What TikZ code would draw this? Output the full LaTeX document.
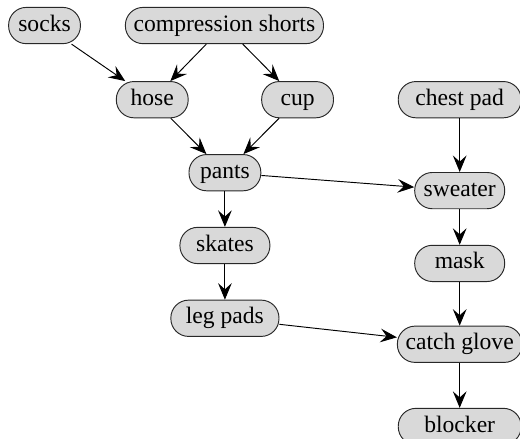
\documentclass[tikz,border=0pt]{standalone}
\usepackage{fontspec}
\setmainfont{Liberation Serif}
\usepackage{tikz}
\usetikzlibrary{arrows.meta, positioning, calc}
\definecolor{padgray}{RGB}{217, 217, 217}
\definecolor{edgegray}{RGB}{40, 40, 40}

\begin{document}
\begin{tikzpicture}[
    node distance=0.53cm and 0.55cm,
    garment/.style={rectangle, draw=edgegray, fill=padgray, rounded corners=7.5pt, minimum width=1.07cm, minimum height=0.54cm, inner xsep=3.5pt, inner ysep=3pt, text height=6.9pt, text depth=2.2pt},
    midgarment/.style={garment, minimum width=1.34cm},
    widegarment/.style={garment, minimum width=1.83cm},
    arrow/.style={-{Stealth[length=7pt, width=5.8pt, inset=2.6pt]}, black}
]
\useasboundingbox (-0.663,0.380) rectangle (7.080,-6.142);

% Top row
\node[garment] (socks) {socks};
\node[garment, right=0.655cm of socks] (shorts) {compression shorts};

% Under layers
\node[garment, below right=0.55cm and 0.52cm of socks] (hose) {hose};
\node[garment, right=1.08cm of hose] (cup) {cup};
\node[widegarment, right=0.95cm of cup] (chestpad) {chest pad};

% Pants and below
\node[garment, below=0.81cm of $(hose)!0.5!(cup)$] (pants) {pants};
\node[midgarment, below=of pants] (skates) {skates};
\node[garment, minimum width=1.61cm, below=of skates] (legpads) {leg pads};

% Upper body
\node[midgarment, below=0.80cm of chestpad] (sweater) {sweater};
\node[midgarment, below=of sweater] (mask) {mask};
\node[widegarment, below=0.65cm of mask] (glove) {catch glove};
\node[widegarment, below=0.67cm of glove] (blocker) {blocker};

% Arrows
\draw[arrow] (socks) -- (hose);
\draw[arrow] (shorts) -- (hose);
\draw[arrow] (shorts) -- (cup);
\draw[arrow] (hose) -- (pants);
\draw[arrow] (cup) -- (pants);
\draw[arrow] (pants) -- (skates);
\draw[arrow] (pants) -- (sweater);
\draw[arrow] (skates) -- (legpads);
\draw[arrow] (chestpad) -- (sweater);
\draw[arrow] (sweater) -- (mask);
\draw[arrow] (mask) -- (glove);
\draw[arrow] (legpads) -- (glove);
\draw[arrow] (glove) -- (blocker);

\end{tikzpicture}
\end{document}
